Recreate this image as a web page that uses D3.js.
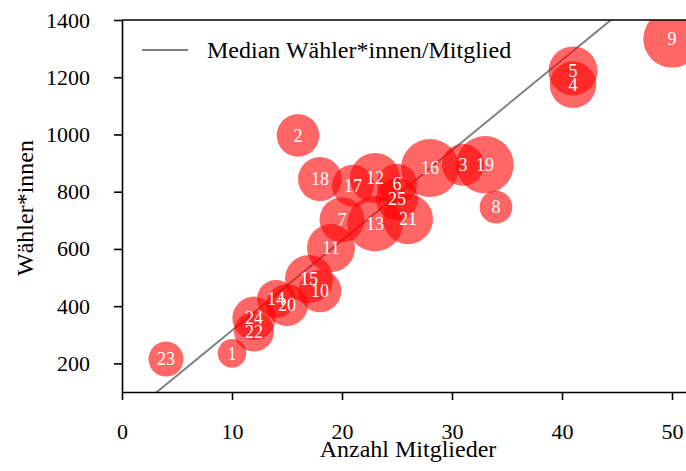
<!DOCTYPE html>
<html>
<head>
<meta charset="utf-8">
<script src="https://cdn.jsdelivr.net/npm/d3@7"></script>
<style>
  body { margin: 0; background: white; }
</style>
</head>
<body>
<div id="chart"></div>
<script>
// Ortsgruppen: Mitglieder, Wähler*innen, Blasengröße
const ids = ["1", "2", "3", "4", "5", "6", "7", "8", "9", "10", "11", "12", "13",
    "14", "15", "16", "17", "18", "19", "20", "21", "22", "23", "24", "25"];
const mitglieder = [10, 16, 31, 41, 41, 25, 20, 34, 50, 18, 19, 23, 23,
    14, 17, 28, 21, 18, 33, 15, 26, 12, 4, 12, 25];
const waehler = [235, 997, 894, 1174, 1222, 828, 702, 746, 1334, 453, 603, 848, 688,
    425, 495, 883, 821, 844, 894, 404, 704, 311, 215, 358, 774];
const groesse = [204, 454, 441, 543, 600, 400, 506, 266, 824, 454, 576, 625, 767,
    361, 576, 841, 441, 484, 824, 441, 625, 400, 306, 467, 441];
const medianProMitglied = 31.5;
const xTicks = [0, 10, 20, 30, 40, 50];
const yTicks = [200, 400, 600, 800, 1000, 1200, 1400];

const width = 686, height = 471;
const margin = {top: 20, right: -8, bottom: 79, left: 122};
const serif = "'Liberation Serif', 'Times New Roman', serif";

const svg = d3.select("#chart")
    .append("svg")
    .attr("width", width)
    .attr("height", height)
    .style("font-family", serif);

const x = d3.scaleLinear()
    .domain([0, 52])
    .range([margin.left, width - margin.right]);
const y = d3.scaleLinear()
    .domain([100, 1400])
    .range([height - margin.bottom, margin.top]);
const r = d3.scaleSqrt()
    .domain([0, 900])
    .range([0, 30]);

svg.append("defs").append("clipPath")
    .attr("id", "plotclip")
    .append("rect")
    .attr("x", margin.left)
    .attr("y", margin.top)
    .attr("width", x.range()[1] - margin.left)
    .attr("height", y.range()[0] - margin.top);

const data = ids.map((id, i) => ({
    id: id, m: mitglieder[i], w: waehler[i], s: groesse[i]
}));

const plot = svg.append("g").attr("clip-path", "url(#plotclip)");

// Medianlinie
plot.append("path")
    .datum([0, 52])
    .attr("fill", "none")
    .attr("stroke", "#808080")
    .attr("stroke-width", 2)
    .attr("d", d3.line()
        .x(d => x(d))
        .y(d => y(d * medianProMitglied)));

plot.selectAll("circle")
    .data(data)
    .join("circle")
    .attr("cx", d => x(d.m))
    .attr("cy", d => y(d.w))
    .attr("r", d => r(d.s))
    .attr("fill", "red")
    .attr("fill-opacity", 0.6);

plot.selectAll("text.lbl")
    .data(data)
    .join("text")
    .attr("class", "lbl")
    .attr("x", d => x(d.m))
    .attr("y", d => y(d.w))
    .attr("dy", "0.35em")
    .attr("text-anchor", "middle")
    .style("font-family", serif)
    .attr("font-size", "18px")
    .attr("fill", "white")
    .text(d => d.id);

// Achsen
const xAxis = svg.append("g")
    .attr("transform", `translate(0,${y.range()[0]})`)
    .call(d3.axisBottom(x)
        .tickValues(xTicks)
        .tickSize(8)
        .tickSizeOuter(0)
        .tickPadding(23));
const yAxis = svg.append("g")
    .attr("transform", `translate(${margin.left},0)`)
    .call(d3.axisLeft(y)
        .tickValues(yTicks)
        .tickFormat(d3.format("d"))
        .tickSize(8)
        .tickSizeOuter(0)
        .tickPadding(24));

[xAxis, yAxis].forEach(a => {
    a.attr("font-family", null);
    a.selectAll("text")
        .style("font-family", serif)
        .attr("font-size", "22px")
        .attr("fill", "black");
    a.selectAll("line, path")
        .attr("stroke", "black")
        .attr("stroke-width", 1.6);
});

svg.append("line")
    .attr("x1", margin.left)
    .attr("x2", x.range()[1])
    .attr("y1", margin.top)
    .attr("y2", margin.top)
    .attr("stroke", "black")
    .attr("stroke-width", 1.6);

svg.append("text")
    .attr("x", (margin.left + x.range()[1]) / 2)
    .attr("y", 457)
    .attr("text-anchor", "middle")
    .style("font-family", serif)
    .attr("font-size", "24px")
    .text("Anzahl Mitglieder");

svg.append("text")
    .attr("transform", "translate(33,208) rotate(-90)")
    .attr("text-anchor", "middle")
    .style("font-family", serif)
    .attr("font-size", "24px")
    .text("Wähler*innen");

// Legende
const legend = svg.append("g");
legend.append("line")
    .attr("x1", 142)
    .attr("x2", 188)
    .attr("y1", 50)
    .attr("y2", 50)
    .attr("stroke", "#808080")
    .attr("stroke-width", 2);
legend.append("text")
    .attr("x", 207)
    .attr("y", 50)
    .attr("dy", "0.35em")
    .style("font-family", serif)
    .attr("font-size", "24px")
    .text("Median Wähler*innen/Mitglied");
</script>
</body>
</html>
